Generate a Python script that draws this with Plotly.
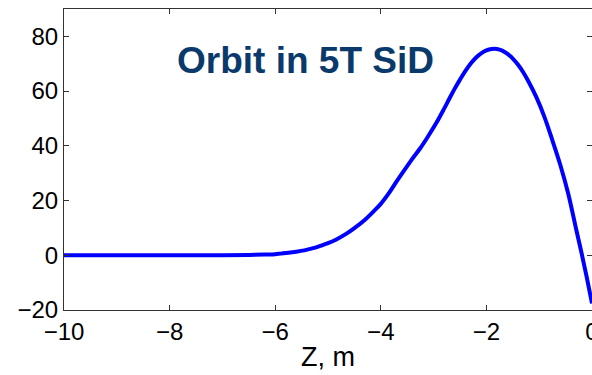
import plotly.graph_objects as go

# Data
z_m = [-10, -9, -8, -7, -6.5, -6.2, -6, -5.9, -5.75, -5.6, -5.45, -5.3, -5.15, -5.0,
       -4.85, -4.65, -4.5, -4.3, -4.15, -4.0, -3.85, -3.7, -3.55, -3.4, -3.25, -3.1,
       -2.95, -2.8, -2.7, -2.6, -2.5, -2.4, -2.3, -2.2, -2.1, -2.0, -1.9, -1.8, -1.7,
       -1.6, -1.5, -1.4, -1.3, -1.2, -1.05, -0.9, -0.75, -0.6, -0.45, -0.3, -0.2,
       -0.1, 0]
orbit = [0, 0, 0, 0, 0.1, 0.25, 0.4, 0.6, 0.9, 1.3, 1.8, 2.5, 3.4, 4.4,
         5.7, 7.9, 9.9, 13.0, 15.8, 18.8, 22.6, 27.0, 31.2, 35.3, 39.2, 43.6,
         48.3, 53.6, 57.3, 60.9, 64.2, 67.3, 70.0, 72.2, 73.8, 74.9, 75.4, 75.4, 74.8,
         73.6, 71.9, 69.6, 66.8, 63.4, 57.6, 50.5, 42.0, 33.0, 22.5, 9.5, 1.0,
         -8.0, -17.6]
x_ticks = [-10, -8, -6, -4, -2, 0]
y_ticks = [-20, 0, 20, 40, 60, 80]
title_text = "Orbit in 5T SiD"
x_label = "Z, m"

fig = go.Figure()
fig.add_trace(go.Scatter(x=z_m, y=orbit, mode="lines",
                         line=dict(color="#0000ff", width=4, shape="spline", smoothing=1.0),
                         showlegend=False, hoverinfo="skip"))

axis_common = dict(showgrid=False, zeroline=False, showline=True, linecolor="#333333",
                   linewidth=1, mirror="ticks", ticks="inside", ticklen=5,
                   tickcolor="#333333", automargin=False, ticklabeloverflow="allow",
                   tickfont=dict(family="Liberation Sans, Arial", size=24, color="black"))

fig.update_xaxes(range=[-10, 0], tickvals=x_ticks, title=dict(text=x_label,
                 font=dict(family="Liberation Sans, Arial", size=27, color="black"), standoff=3),
                 **axis_common)
fig.update_yaxes(range=[-20, 90], tickvals=y_ticks, **axis_common)

fig.add_annotation(text="<b>" + title_text + "</b>", xref="paper", yref="paper",
                   x=0.457, y=0.83, xanchor="center", yanchor="middle", showarrow=False,
                   font=dict(family="Liberation Sans, Arial", size=37, color="#0a3a6b"))

fig.update_layout(width=592, height=375, plot_bgcolor="white", paper_bgcolor="white",
                  margin=dict(l=64, r=0, t=9, b=65))

fig.write_html("out.html", config={"displayModeBar": False},
               post_script="document.body.style.margin='0';document.body.style.overflow='hidden';")
